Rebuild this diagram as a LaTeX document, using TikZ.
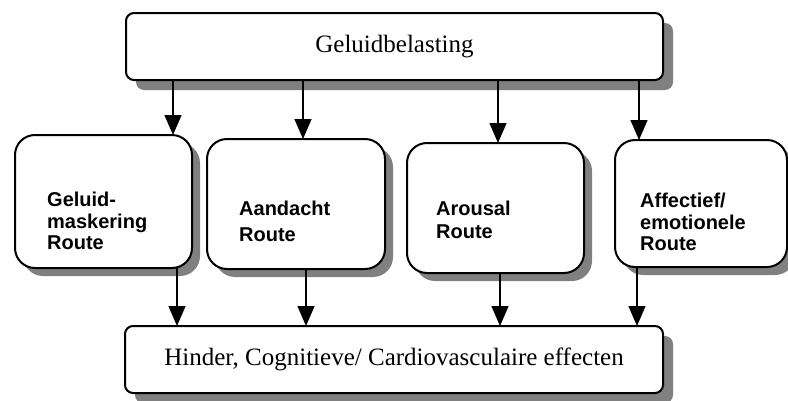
\documentclass[tikz,border=0pt]{standalone}
\usepackage{fontspec}
\setmainfont{Liberation Serif}
\setsansfont{Liberation Sans}
\usetikzlibrary{arrows.meta,backgrounds,calc}

\definecolor{shadowgray}{RGB}{128,128,128}

\tikzset{
  bigbox/.style={draw, line width=2pt, rounded corners=8pt, fill=white, outer sep=0pt,
    minimum width=537pt, minimum height=67pt, font=\fontsize{25}{30}\selectfont},
  routebox/.style={draw, line width=2pt, rounded corners=20pt, fill=white, outer sep=0pt},
  routetext/.style={anchor=north west, inner sep=0pt, align=left,
    font=\sffamily\bfseries\fontsize{20}{21.5}\selectfont},
  arr/.style={line width=1.3pt, -{Triangle[length=20pt,width=17pt]}}
}

\begin{document}
\begin{tikzpicture}[x=1pt,y=-1pt]
      \useasboundingbox (0,0) rectangle (788,400);

      % Draw the boxes
      \node[bigbox] (bel) at (394.5,46.5) {Geluidbelasting};
      \node[routebox, minimum width=177pt, minimum height=133pt] (gm) at (103.5,201.5) {};
      \node[routebox, minimum width=178pt, minimum height=130pt] (aa) at (296,204) {};
      \node[routebox, minimum width=177pt, minimum height=130pt] (ar) at (495.5,208) {};
      \node[routebox, minimum width=172pt, minimum height=127pt] (ae) at (701,203.5) {};
      \node[bigbox, minimum width=538pt] (eff) at (394,359.5) {Hinder, Cognitieve/ Cardiovasculaire effecten};

      % Draw the shadows
      \begin{scope}[on background layer]
        \foreach \n/\r/\d in {bel/8/10, gm/20/8, aa/20/8, ar/20/8, ae/20/8, eff/8/10}
          \fill[shadowgray, rounded corners=\r pt] ($(\n.south west)+(\d,\d)$) rectangle ($(\n.north east)+(\d,\d)$);
      \end{scope}

      % Draw the route texts
      \node[routetext] (gmtxt) at ($(gm.north west)+(32,57)$) {Geluid-\\maskering\\Route};
      \node[routetext] (aatxt) at ($(aa.north west)+(32,62)$) {Aandacht\\[4pt]Route};
      \node[routetext] (artxt) at ($(ar.north west)+(29,58)$) {Arousal\\[1pt]Route};
      \node[routetext] (aetxt) at ($(ae.north west)+(25,53)$) {Affectief/\\emotionele\\Route};

      % Draw the arrows
      \coordinate (gmin) at ($(gm.north)+(69.5,0)$);
      \coordinate (aain) at ($(aa.north)+(7,0)$);
      \coordinate (arin) at ($(ar.north)+(2.5,0)$);
      \coordinate (aein) at ($(ae.north)+(-62,0)$);
      \draw[arr] (bel.south -| gmin) -- (gmin);
      \draw[arr] (bel.south -| aain) -- (aain);
      \draw[arr] (bel.south -| arin) -- (arin);
      \draw[arr] (bel.south -| aein) -- (aein);

      \coordinate (gmout) at ($(gm.south)+(73.5,0)$);
      \coordinate (aaout) at ($(aa.south)+(10,0)$);
      \coordinate (arout) at ($(ar.south)+(4.5,0)$);
      \coordinate (aeout) at ($(ae.south)+(-64,0)$);
      \draw[arr] (gmout) -- (eff.north -| gmout);
      \draw[arr] (aaout) -- (eff.north -| aaout);
      \draw[arr] (arout) -- (eff.north -| arout);
      \draw[arr] (aeout) -- (eff.north -| aeout);
    \end{tikzpicture}
\end{document}
